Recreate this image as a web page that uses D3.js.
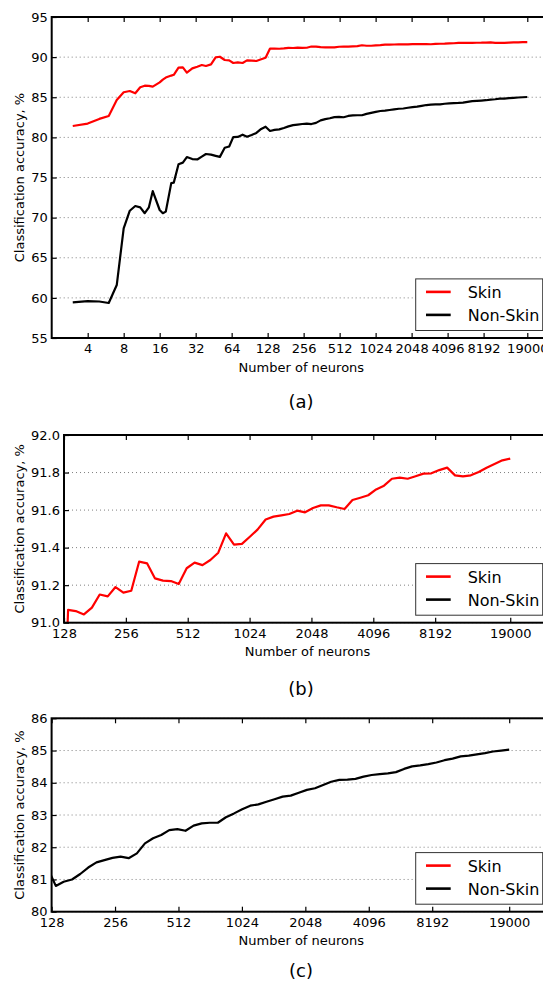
<!DOCTYPE html>
<html>
<head>
<meta charset="utf-8">
<script src="https://cdn.jsdelivr.net/npm/d3@7"></script>
<style>
  body { margin: 0; background: #fff; }
  svg { display: block; font-family: "DejaVu Sans", sans-serif; }
  .grid line { stroke: #808080; stroke-width: 1; stroke-dasharray: 1,3; }
  .tick line { stroke: #000; stroke-width: 1.2; }
</style>
</head>
<body>
<div id="chart"></div>
<script>
// number of hidden neurons (x values shared by both series)
const neurons = [3, 4, 5, 6, 7, 8, 9, 10, 11, 12, 13, 14, 16, 17, 18, 20, 21, 23, 25, 27,
  30, 33, 36, 39, 43, 47, 51, 56, 61, 66, 72, 79, 86, 94, 103, 113, 123,
  134, 146, 160, 175, 191, 209, 228, 249, 272, 297, 325, 355, 388, 424, 463, 506,
  553, 604, 660, 721, 787, 860, 940, 1027, 1122, 1226, 1339, 1463, 1598, 1746,
  1907, 2084, 2276, 2487, 2717, 2968, 3243, 3542, 3870, 4228, 4619, 5046, 5512,
  6022, 6579, 7187, 7851, 8577, 9370, 10237, 11183, 12217, 13347, 14581, 15929,
  17401, 19000];

const skinAcc = [81.42, 81.72, 82.3, 82.66, 84.66, 85.62, 85.78, 85.49, 86.24, 86.44,
  86.42, 86.32, 86.85, 87.2, 87.45, 87.7, 87.8, 88.68, 88.73, 88.06,
  88.6, 88.81, 89.02, 88.9, 89.1, 89.98, 90.05, 89.64, 89.6, 89.27,
  89.35, 89.27, 89.6, 89.56, 89.52, 89.73, 89.93,
  91.068, 91.062, 91.044, 91.08, 91.15, 91.14, 91.19, 91.16, 91.17, 91.325,
  91.316, 91.236, 91.224, 91.222, 91.206, 91.29, 91.32, 91.307, 91.334, 91.373,
  91.476, 91.416, 91.42, 91.458, 91.497, 91.55, 91.565, 91.572, 91.579, 91.597,
  91.588, 91.611, 91.625, 91.625, 91.615, 91.606, 91.654, 91.666, 91.679, 91.71,
  91.73, 91.767, 91.773, 91.767, 91.78, 91.794, 91.796, 91.813, 91.826, 91.785,
  91.78, 91.785, 91.803, 91.826, 91.845, 91.865, 91.874];

const nonSkinAcc = [59.45, 59.6, 59.55, 59.36, 61.6, 68.67, 70.86, 71.45, 71.28, 70.55,
  71.28, 73.3, 70.95, 70.55, 70.75, 74.3, 74.36, 76.65, 76.85, 77.55,
  77.3, 77.25, 77.6, 77.93, 77.85, 77.7, 77.57, 78.7, 78.87, 80.03,
  80.05, 80.33, 80.08, 80.3, 80.55, 81.05, 81.33,
  80.80, 80.93, 81.00, 81.17, 81.37, 81.53, 81.60, 81.67, 81.71, 81.66,
  81.81, 82.12, 82.28, 82.38, 82.53, 82.56, 82.51, 82.67, 82.74, 82.76,
  82.76, 82.93, 83.05, 83.18, 83.29, 83.33, 83.41, 83.49, 83.57, 83.60,
  83.69, 83.78, 83.83, 83.93, 84.03, 84.09, 84.10, 84.12, 84.19, 84.24,
  84.27, 84.29, 84.33, 84.43, 84.51, 84.54, 84.58, 84.63, 84.70, 84.75,
  84.82, 84.84, 84.88, 84.92, 84.97, 85.00, 85.03];

const seriesNames = ["Skin", "Non-Skin"];
const seriesColors = ["#ff0000", "#000000"];

const xTicksA = [4, 8, 16, 32, 64, 128, 256, 512, 1024, 2048, 4096, 8192, 19000];
const xTicksZoom = [128, 256, 512, 1024, 2048, 4096, 8192, 19000];
const yTicksA = [55, 60, 65, 70, 75, 80, 85, 90, 95];
const yTicksB = [91.0, 91.2, 91.4, 91.6, 91.8, 92.0];
const yTicksC = [80, 81, 82, 83, 84, 85, 86];

const W = 543, H = 984;
const svg = d3.select("#chart").append("svg")
  .attr("width", W)
  .attr("height", H);

const series = seriesNames.map((name, i) => ({
  name: name,
  color: seriesColors[i],
  values: neurons.map((n, j) => ({ n: n, v: i === 0 ? skinAcc[j] : nonSkinAcc[j] }))
}));

function drawPanel(p) {
  const right = 551;
  const g = svg.append("g");

  const x = d3.scaleLog().base(2)
    .domain([p.xMin, 30000])
    .range([p.left, right]);
  const y = d3.scaleLinear()
    .domain(p.yDomain)
    .range([p.bottom, p.top]);

  // grid
  g.append("g").attr("class", "grid")
    .selectAll("line")
    .data(p.yTicks)
    .join("line")
    .attr("x1", p.left).attr("x2", right)
    .attr("y1", d => y(d)).attr("y2", d => y(d));

  // clip
  svg.append("clipPath").attr("id", "clip-" + p.id)
    .append("rect")
    .attr("x", p.left).attr("y", p.top)
    .attr("width", right - p.left).attr("height", p.bottom - p.top);

  const line = d3.line().x(d => x(d.n)).y(d => y(d.v));
  g.append("g").attr("clip-path", "url(#clip-" + p.id + ")")
    .selectAll("path")
    .data(series)
    .join("path")
    .attr("fill", "none")
    .attr("stroke", d => d.color)
    .attr("stroke-width", 2.2)
    .attr("stroke-linejoin", "round")
    .attr("d", d => line(d.values));

  // axes
  const bottomAxis = g.append("g")
    .attr("transform", `translate(0,${p.bottom})`)
    .call(d3.axisBottom(x).tickValues(p.xTicks).tickFormat(d3.format("d"))
      .tickSizeInner(-5).tickSizeOuter(0).tickPadding(6));
  const topAxis = g.append("g")
    .attr("transform", `translate(0,${p.top})`)
    .call(d3.axisTop(x).tickValues(p.xTicks).tickFormat("")
      .tickSizeInner(-5).tickSizeOuter(0));
  const leftAxis = g.append("g")
    .attr("transform", `translate(${p.left},0)`)
    .call(d3.axisLeft(y).tickValues(p.yTicks).tickFormat(p.yFormat)
      .tickSizeInner(-5).tickSizeOuter(0).tickPadding(4));

  [bottomAxis, topAxis, leftAxis].forEach(a => {
    a.select(".domain").remove();
    a.selectAll("text").attr("fill", "#000").style("font-size", "13px")
      .style("font-family", '"DejaVu Sans", sans-serif');
  });

  // frame
  g.append("rect")
    .attr("x", p.left).attr("y", p.top)
    .attr("width", right - p.left).attr("height", p.bottom - p.top)
    .attr("fill", "none").attr("stroke", "#000").attr("stroke-width", 2);

  // axis labels
  g.append("text")
    .attr("x", (p.left + right) / 2)
    .attr("y", p.bottom + 33.5)
    .attr("text-anchor", "middle")
    .style("font-size", "13px")
    .text("Number of neurons");

  g.append("text")
    .attr("transform", `translate(24,${(p.top + p.bottom) / 2}) rotate(-90)`)
    .attr("text-anchor", "middle")
    .style("font-size", "13px")
    .text("Classification accuracy, %");

  // legend
  const lw = 127, lh = 51.6;
  const lx = right - 8.3 - lw, ly = p.bottom - 7.5 - lh;
  const leg = g.append("g").attr("transform", `translate(${lx},${ly})`);
  leg.append("rect")
    .attr("width", lw).attr("height", lh)
    .attr("fill", "#fff").attr("stroke", "#333").attr("stroke-width", 1);
  const item = leg.selectAll("g.item")
    .data(series)
    .join("g")
    .attr("class", "item")
    .attr("transform", (d, i) => `translate(0,${13 + i * 23})`);
  item.append("line")
    .attr("x1", 10.3).attr("x2", 35)
    .attr("stroke", d => d.color)
    .attr("stroke-width", 2.6);
  item.append("text")
    .attr("x", 52).attr("y", 6)
    .style("font-size", "16px")
    .text(d => d.name);

  // caption
  svg.append("text")
    .attr("x", 301).attr("y", p.captionY)
    .attr("text-anchor", "middle")
    .style("font-size", "18px")
    .text(p.caption);
}

drawPanel({ id: "a", top: 17, bottom: 338, left: 51.7, xMin: 2, xTicks: xTicksA,
  yDomain: [55, 95], yTicks: yTicksA, yFormat: d3.format("d"), caption: "(a)", captionY: 408 });
drawPanel({ id: "b", top: 435, bottom: 622.7, left: 64, xMin: 128, xTicks: xTicksZoom,
  yDomain: [91, 92], yTicks: yTicksB, yFormat: d3.format(".1f"), caption: "(b)", captionY: 695 });
drawPanel({ id: "c", top: 718.3, bottom: 911.7, left: 51.6, xMin: 128, xTicks: xTicksZoom,
  yDomain: [80, 86], yTicks: yTicksC, yFormat: d3.format("d"), caption: "(c)", captionY: 977 });
</script>
</body>
</html>
